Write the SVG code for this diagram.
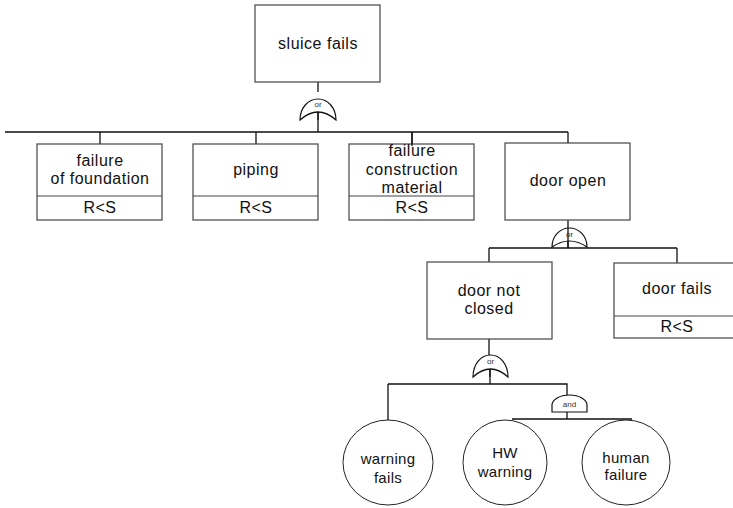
<svg xmlns="http://www.w3.org/2000/svg" width="733" height="508" viewBox="0 0 733 508">
<style>
.box{fill:#fff;stroke:#444;stroke-width:1.2}
.ev{fill:#fff;stroke:#222;stroke-width:1}
.ln{fill:none;stroke:#111;stroke-width:1.3}
.gate{fill:#fff;stroke:#111;stroke-width:1.2}
.t{font-family:"Liberation Sans",Arial,sans-serif;font-size:16px;letter-spacing:0.5px;fill:#111;text-anchor:middle}
.tc{font-family:"Liberation Sans",Arial,sans-serif;font-size:15px;letter-spacing:0.3px;fill:#111;text-anchor:middle}
.g{font-family:"Liberation Sans",Arial,sans-serif;font-size:8px;fill:#333;text-anchor:middle}
</style>
<rect width="733" height="508" fill="#fff"/>
<g id="connectors">
<path class="ln" d="M318,82 V92"/>
<path class="ln" d="M318,112 V132 M5,132 H568 M100,132 V146 M256,132 V146 M412,132 V146 M568,132 V143"/>
<path class="ln" d="M568,220 V248 M489,248 H677 M489,248 V262 M677,248 V263"/>
<path class="ln" d="M489,339 V355 M490,369 V384 M388,384 H567 V395 M388,384 V420"/>
<path class="ln" d="M567,412 V419 M512,419 H632"/>
</g>
<g id="gate-or-1">
<path class="gate" d="M300,120 C300,108 308,99 318,99 C328,99 336,108 336,120 Q318,104 300,120 Z"/>
<text class="g" x="318" y="107">or</text>
<path class="ln" d="M318,112 V120"/>
</g>
<g id="gate-or-2">
<path class="gate" d="M552,247 C552,236 560,228 569.5,228 C579,228 587,236 587,247 Q569.5,235 552,247 Z"/>
<text class="g" x="569.5" y="237">or</text>
<path class="ln" d="M568,228 V248"/>
</g>
<g id="gate-or-3">
<path class="gate" d="M473,377 C473,364 481,355 490.5,355 C500,355 508,364 508,377 Q490.5,361 473,377 Z"/>
<text class="g" x="490.5" y="364">or</text>
<path class="ln" d="M490,369 V377"/>
</g>
<g id="gate-and">
<path class="gate" d="M552,412 V405 A17.5,10 0 0 1 587,405 V412 Z"/>
<text class="g" x="569.5" y="407">and</text>
</g>
<g id="sluice-fails">
<rect class="box" x="255" y="5" width="125" height="77"/>
<text class="t" x="318" y="49">sluice fails</text>
</g>
<g id="failure-of-foundation">
<rect class="box" x="37" y="144" width="125" height="76"/>
<line class="box" x1="37" y1="196" x2="162" y2="196"/>
<text class="t" x="100" y="166">failure</text>
<text class="t" x="100" y="184">of foundation</text>
<text class="t" x="100" y="213">R&lt;S</text>
</g>
<g id="piping">
<rect class="box" x="193" y="144" width="125" height="76"/>
<line class="box" x1="193" y1="196" x2="318" y2="196"/>
<text class="t" x="256" y="175">piping</text>
<text class="t" x="256" y="213">R&lt;S</text>
</g>
<g id="failure-construction-material">
<rect class="box" x="349" y="144" width="125" height="76"/>
<line class="box" x1="349" y1="196" x2="474" y2="196"/>
<text class="t" x="412" y="156">failure</text>
<text class="t" x="412" y="175">construction</text>
<text class="t" x="412" y="193">material</text>
<text class="t" x="412" y="213">R&lt;S</text>
</g>
<path class="ln" d="M412,132 V146"/>
<g id="door-open">
<rect class="box" x="505" y="143" width="125" height="77"/>
<text class="t" x="568" y="186">door open</text>
</g>
<g id="door-not-closed">
<rect class="box" x="427" y="262" width="125" height="77"/>
<text class="t" x="489" y="296">door not</text>
<text class="t" x="489" y="314">closed</text>
</g>
<g id="door-fails">
<rect class="box" x="614" y="263" width="126" height="75"/>
<line class="box" x1="614" y1="316" x2="740" y2="316"/>
<text class="t" x="677" y="294">door fails</text>
<text class="t" x="677" y="332">R&lt;S</text>
</g>
<g id="warning-fails">
<ellipse class="ev" cx="388" cy="462.5" rx="45" ry="42.5"/>
<text class="tc" x="388" y="464">warning</text>
<text class="tc" x="388" y="483">fails</text>
</g>
<g id="hw-warning">
<ellipse class="ev" cx="505" cy="462.5" rx="42" ry="42.5"/>
<text class="tc" x="505" y="458">HW</text>
<text class="tc" x="505" y="477">warning</text>
</g>
<g id="human-failure">
<ellipse class="ev" cx="626" cy="462.5" rx="44" ry="42.5"/>
<text class="tc" x="626" y="463">human</text>
<text class="tc" x="626" y="480">failure</text>
</g>
</svg>
